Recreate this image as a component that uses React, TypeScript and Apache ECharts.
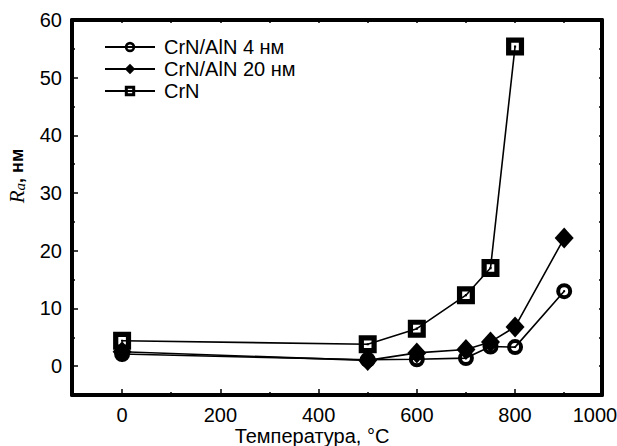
import React, { useEffect, useRef } from 'react';
import * as echarts from 'echarts';

// Data
const temps = [0, 500, 600, 700, 750, 800, 900];
const crnAln4 = [2.1, 1.1, 1.2, 1.4, 3.4, 3.3, 13.0];
const crnAln20 = [2.5, 1.0, 2.3, 2.9, 4.2, 6.8, 22.2];
const crnTemps = [0, 500, 600, 700, 750, 800];
const crn = [4.4, 3.8, 6.5, 12.3, 17.0, 55.4];

const seriesNames = ['CrN/AlN 4 нм', 'CrN/AlN 20 нм', 'CrN'];
const xLabels = [0, 200, 400, 600, 800];
const xMinorTicks = [100, 300, 500, 700, 900];
const xTopTicks = [0, 100, 200, 300, 400, 500, 600, 700, 800, 900];
const yLabels = [0, 10, 20, 30, 40, 50, 60];
const yMinorTicks = [5, 15, 25, 35, 45, 55];
const yRightTicks = [0, 5, 10, 15, 20, 25, 30, 35, 40, 45, 50, 55];

const FONT = '"Liberation Sans", Arial, Helvetica, sans-serif';
const SQ = 'path://M0,0H10V10H0Z M2.9,2.9V7.1H7.1V2.9Z M4.4,4.4H5.6V5.6H4.4Z';
const CIRC =
  'path://M5,0A5,5 0 1,1 5,10A5,5 0 1,1 5,0Z M5,2.5A2.5,2.5 0 1,0 5,7.5A2.5,2.5 0 1,0 5,2.5Z M5,4.3A0.7,0.7 0 1,1 5,5.7A0.7,0.7 0 1,1 5,4.3Z';

const X_MIN = -102;
const X_MAX = 977;
const Y_MIN = -5;
const Y_MAX = 60;

export default function App() {
  const ref = useRef<HTMLDivElement>(null);
  useEffect(() => {
    if (!ref.current) return;
    const chart = echarts.init(ref.current, undefined, { renderer: 'svg' });
    const axisLine = { show: true, onZero: false, lineStyle: { color: '#000', width: 4 } };
    const noLine = { show: false, onZero: false };
    const tickStyle = { color: '#000', width: 1.5 };
    const option: any = {
      animation: false,
      backgroundColor: '#fff',
      grid: { left: 72, right: 15, top: 20, bottom: 51, containLabel: false },
      legend: {
        orient: 'vertical',
        left: 99,
        top: 32,
        itemWidth: 50,
        itemHeight: 13,
        itemGap: 2,
        data: seriesNames,
        textStyle: { fontFamily: FONT, fontSize: 20, color: '#000', padding: [0, 0, 0, 4] },
      },
      xAxis: [
        {
          type: 'value', min: X_MIN, max: X_MAX, position: 'bottom',
          axisLine, splitLine: { show: false },
          axisTick: { inside: true, length: 6, lineStyle: tickStyle, customValues: xLabels },
          axisLabel: { customValues: xLabels, margin: 10, fontFamily: FONT, fontSize: 20, color: '#000' },
        },
        {
          type: 'value', min: X_MIN, max: X_MAX, position: 'bottom', offset: 0,
          axisLine: noLine, splitLine: { show: false },
          axisTick: { inside: true, length: 3, lineStyle: tickStyle, customValues: xMinorTicks },
          axisLabel: { show: false },
        },
        {
          type: 'value', min: X_MIN, max: X_MAX, position: 'top',
          axisLine, splitLine: { show: false },
          axisTick: { inside: true, length: 3, lineStyle: tickStyle, customValues: xTopTicks },
          axisLabel: { show: false },
        },
      ],
      yAxis: [
        {
          type: 'value', min: Y_MIN, max: Y_MAX, position: 'left',
          axisLine, splitLine: { show: false },
          axisTick: { inside: true, length: 6, lineStyle: tickStyle, customValues: yLabels },
          axisLabel: { customValues: yLabels, margin: 10, fontFamily: FONT, fontSize: 20, color: '#000' },
        },
        {
          type: 'value', min: Y_MIN, max: Y_MAX, position: 'left', offset: 0,
          axisLine: noLine, splitLine: { show: false },
          axisTick: { inside: true, length: 3, lineStyle: tickStyle, customValues: yMinorTicks },
          axisLabel: { show: false },
        },
        {
          type: 'value', min: Y_MIN, max: Y_MAX, position: 'right',
          axisLine, splitLine: { show: false },
          axisTick: { inside: true, length: 3, lineStyle: tickStyle, customValues: yRightTicks },
          axisLabel: { show: false },
        },
      ],
      series: [
        {
          name: seriesNames[0], type: 'line', xAxisIndex: 0, yAxisIndex: 0,
          data: temps.map((t, i) => [t, crnAln4[i]]),
          symbol: CIRC, symbolSize: 16, symbolKeepAspect: true,
          lineStyle: { color: '#000', width: 1.6 }, itemStyle: { color: '#000' }, z: 2,
        },
        {
          name: seriesNames[1], type: 'line', xAxisIndex: 0, yAxisIndex: 0,
          data: temps.map((t, i) => [t, crnAln20[i]]),
          symbol: 'diamond', symbolSize: [19, 21],
          lineStyle: { color: '#000', width: 1.6 }, itemStyle: { color: '#000' }, z: 3,
        },
        {
          name: seriesNames[2], type: 'line', xAxisIndex: 0, yAxisIndex: 0,
          data: crnTemps.map((t, i) => [t, crn[i]]),
          symbol: SQ, symbolSize: 18, symbolKeepAspect: true,
          lineStyle: { color: '#000', width: 1.6 }, itemStyle: { color: '#000' }, z: 2,
        },
      ],
      graphic: [
        {
          type: 'text', x: 595, y: 415,
          style: { text: '1000', fontFamily: FONT, fontSize: 20, fill: '#000', align: 'center', verticalAlign: 'middle' },
        },
        {
          type: 'text', x: 312, y: 436,
          style: { text: 'Температура, °C', fontFamily: FONT, fontSize: 20, fill: '#000', align: 'center', verticalAlign: 'middle' },
        },
        {
          type: 'text', x: 17, y: 176, rotation: Math.PI / 2,
          style: {
            text: '{r|R}{a|a}{n|, нм}',
            align: 'center', verticalAlign: 'middle', fill: '#000',
            rich: {
              r: { fontFamily: '"Liberation Serif", "Times New Roman", serif', fontStyle: 'italic', fontSize: 21, fill: '#000' },
              a: { fontFamily: '"Liberation Serif", "Times New Roman", serif', fontStyle: 'italic', fontSize: 15, fill: '#000', verticalAlign: 'bottom', padding: [6, 0, 0, 0] },
              n: { fontFamily: FONT, fontWeight: 'bold', fontSize: 18, fill: '#000' },
            },
          },
        },
      ],
    };
    chart.setOption(option);
    return () => chart.dispose();
  }, []);
  return <div ref={ref} style={{ width: 617, height: 446, position: 'absolute', left: 0, top: 0 }} />;
}
